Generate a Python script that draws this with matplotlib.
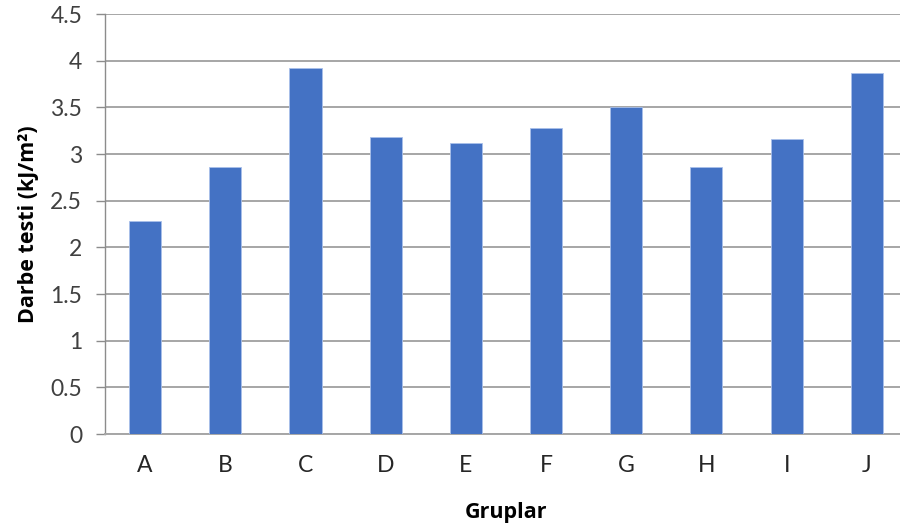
import matplotlib.pyplot as plt

# Darbe testi sonuclari (kJ/m2), gruplara gore
gruplar = ["A", "B", "C", "D", "E", "F", "G", "H", "I", "J"]
darbe = [2.28, 2.86, 3.92, 3.18, 3.12, 3.28, 3.50, 2.86, 3.16, 3.87]
y_ticks = [0, 0.5, 1, 1.5, 2, 2.5, 3, 3.5, 4, 4.5]
y_tick_labels = ["0", "0.5", "1", "1.5", "2", "2.5", "3", "3.5", "4", "4.5"]

plt.rcParams['font.family'] = ['Lato', 'DejaVu Sans']

fig = plt.figure(figsize=(9, 5.3), dpi=100)
ax = fig.add_axes([0.1167, 0.181, 0.891, 0.7925])

x = list(range(len(gruplar)))
ax.bar(x, darbe, width=0.4, color="#4472C4", edgecolor="#A9C0EA",
       linewidth=0.6, zorder=3)

ax.set_xlim(-0.5, len(gruplar) - 0.5)
ax.set_ylim(0, 4.5)
ax.set_yticks(y_ticks)
ax.set_yticklabels(y_tick_labels)
ax.set_xticks(x)
ax.set_xticklabels(gruplar)

ax.grid(axis="y", color="#A6A6A6", linewidth=1.4, zorder=0)
for s in ["top", "right"]:
    ax.spines[s].set_visible(False)
ax.spines["left"].set_color("#8C8C8C")
ax.spines["left"].set_linewidth(1.0)
ax.spines["bottom"].set_color("#A6A6A6")
ax.spines["bottom"].set_linewidth(1.4)

ax.tick_params(axis="y", direction="out", length=6.5, width=1.0,
               color="#8C8C8C", pad=10, labelsize=16.5, labelcolor="#404040")
ax.tick_params(axis="x", length=0, pad=15, labelsize=16.5,
               labelcolor="#262626")

ax.set_ylabel("Darbe testi (kJ/m²)", fontsize=15.5, fontweight="bold",
              family=["Open Sans", "DejaVu Sans"], labelpad=8, color="#000000")
ax.set_xlabel("Gruplar", fontsize=15.5, fontweight="bold",
              family=["Open Sans", "DejaVu Sans"], labelpad=19, color="#000000")

fig.savefig("out.png", dpi=100)
